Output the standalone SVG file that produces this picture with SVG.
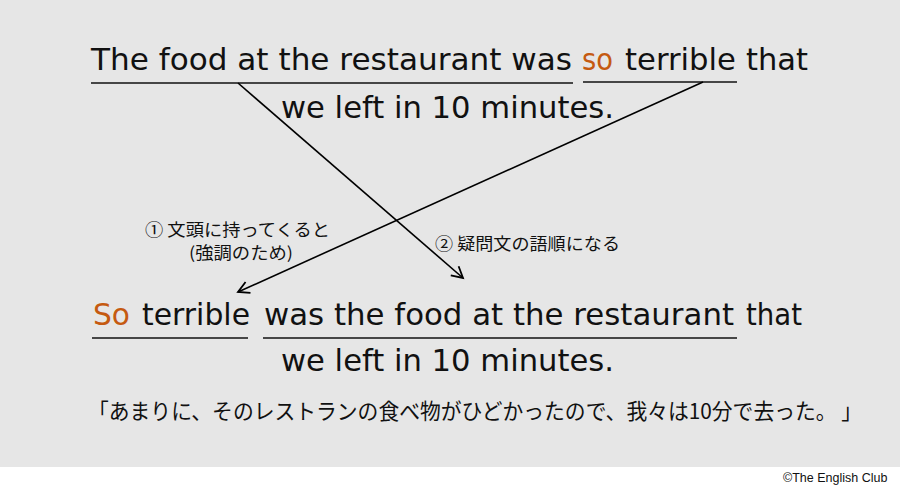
<svg xmlns="http://www.w3.org/2000/svg" width="900" height="493" viewBox="0 0 900 493">
  <style>
    .en { font-family: "DejaVu Sans", "Liberation Sans", sans-serif; font-size: 31px; fill: #111; }
    .hl { fill: #c55a11; }
    .jp { font-family: "Noto Sans CJK JP", "Noto Sans", sans-serif; fill: #111; }
    .lbl { font-size: 16.5px; }
    .ul { stroke: #111; stroke-width: 1.4; fill: none; }
    .arr { stroke: #000; stroke-width: 1.6; fill: none; marker-end: url(#head); }
    .copy { font-family: "Liberation Sans", Arial, sans-serif; font-size: 12.5px; fill: #111; }
  </style>
  <defs>
    <marker id="head" markerUnits="userSpaceOnUse" markerWidth="15" markerHeight="15" refX="12" refY="7" orient="auto">
      <path d="M1,1 L12,7 L1,13" fill="none" stroke="#000" stroke-width="1.8" stroke-linejoin="miter"/>
    </marker>
  </defs>

  <rect x="0" y="0" width="900" height="467" fill="#e6e6e6"/>
  <rect x="0" y="467" width="900" height="26" fill="#ffffff"/>

  <g id="original-sentence">
    <text class="en" x="91" y="70" textLength="481" lengthAdjust="spacingAndGlyphs">The food at the restaurant was</text>
    <text class="en hl" x="582" y="70" textLength="31" lengthAdjust="spacingAndGlyphs">so</text>
    <text class="en" x="625" y="70" textLength="111" lengthAdjust="spacingAndGlyphs">terrible</text>
    <text class="en" x="746" y="70" textLength="62" lengthAdjust="spacingAndGlyphs">that</text>
    <text class="en" x="281" y="118" textLength="333" lengthAdjust="spacingAndGlyphs">we left in 10 minutes.</text>
    <line class="ul" x1="91" y1="83" x2="573" y2="83"/>
    <line class="ul" x1="583" y1="82" x2="737" y2="82"/>
  </g>

  <g id="inverted-sentence">
    <text class="en hl" x="93" y="325" textLength="37" lengthAdjust="spacingAndGlyphs">So</text>
    <text class="en" x="142" y="325" textLength="108" lengthAdjust="spacingAndGlyphs">terrible</text>
    <text class="en" x="264" y="325" textLength="470" lengthAdjust="spacingAndGlyphs">was the food at the restaurant</text>
    <text class="en" x="746" y="325" textLength="56" lengthAdjust="spacingAndGlyphs">that</text>
    <text class="en" x="281" y="371" textLength="333" lengthAdjust="spacingAndGlyphs">we left in 10 minutes.</text>
    <line class="ul" x1="92" y1="338" x2="248" y2="338"/>
    <line class="ul" x1="263" y1="338" x2="737" y2="338"/>
  </g>

  <g id="label-1">
    <text class="jp lbl" x="145" y="236" textLength="185" lengthAdjust="spacingAndGlyphs">① 文頭に持ってくると</text>
    <text class="jp lbl" x="189" y="259" textLength="104" lengthAdjust="spacingAndGlyphs">(強調のため)</text>
  </g>

  <g id="label-2">
    <text class="jp lbl" x="435" y="250" textLength="185" lengthAdjust="spacingAndGlyphs">② 疑問文の語順になる</text>
  </g>

  <g id="translation">
    <text class="jp" x="88" y="419" font-size="21.5" textLength="774" lengthAdjust="spacingAndGlyphs">「あまりに、そのレストランの食べ物がひどかったので、我々は10分で去った。 」</text>
  </g>

  <g id="connectors">
    <line class="arr" x1="238" y1="83" x2="463" y2="278"/>
    <line class="arr" x1="703" y1="82" x2="238" y2="292"/>
  </g>

  <g id="copyright">
    <text class="copy" x="783" y="482">©The English Club</text>
  </g>
</svg>
